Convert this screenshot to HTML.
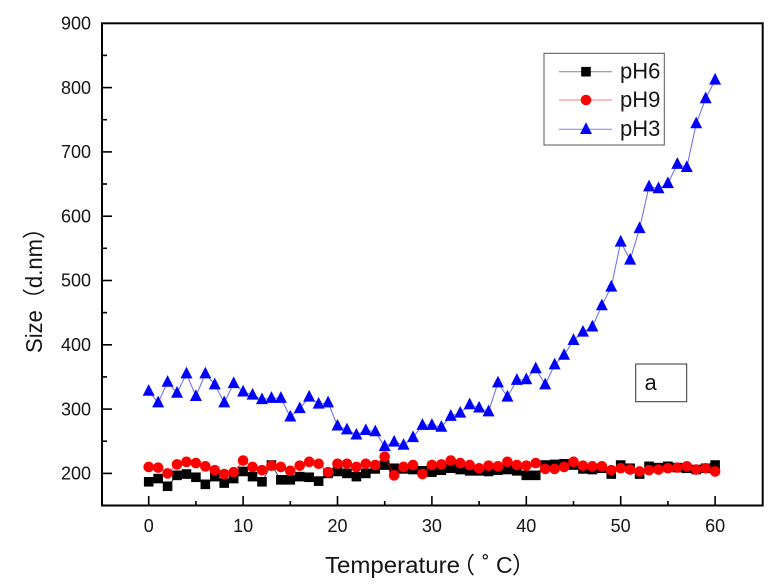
<!DOCTYPE html>
<html><head><meta charset="utf-8"><style>
html,body{margin:0;padding:0;background:#fff;}
svg{display:block;}
text{font-family:"Liberation Sans","Noto Sans CJK SC",sans-serif;fill:#151515;}
</style></head><body>
<svg width="780" height="588" viewBox="0 0 780 588" xmlns="http://www.w3.org/2000/svg">
<defs>
<marker id="msq" markerUnits="userSpaceOnUse" markerWidth="1" markerHeight="1" refX="0" refY="0" style="overflow:visible" overflow="visible">
<rect transform="scale(0.105932,-1.555210)" x="-4.8" y="-4.8" width="9.6" height="9.6" fill="#000"/>
</marker>
<marker id="mci" markerUnits="userSpaceOnUse" markerWidth="1" markerHeight="1" refX="0" refY="0" style="overflow:visible" overflow="visible">
<circle transform="scale(0.105932,-1.555210)" cx="0" cy="0" r="5.3" fill="#f00"/>
</marker>
<marker id="mtr" markerUnits="userSpaceOnUse" markerWidth="1" markerHeight="1" refX="0" refY="0" style="overflow:visible" overflow="visible">
<path transform="scale(0.105932,-1.555210)" d="M0,-7 L6,4.7 L-6,4.7 Z" fill="#00f"/>
</marker>
</defs>
<rect width="780" height="588" fill="#fff"/>

<g transform="translate(148.7,602) scale(9.44,-0.643)">
<polyline fill="none" stroke="#000" stroke-opacity="0.75" stroke-width="1" vector-effect="non-scaling-stroke" marker-start="url(#msq)" marker-mid="url(#msq)" marker-end="url(#msq)"
points="0,187 1,192 2,180 3,197 4,199 5,194 6,183 7,195 8,185 9,192 10,203 11,195 12,187 13,213 14,190 15,190 16,195 17,194 18,188 19,200 20,203 21,200 22,195 23,200 24,207 25,213 26,208 27,207 28,206 29,204 30,202 31,205 32,208 33,206 34,204 35,204 36,203 37,205 38,206 39,204 40,197 41,197 42,213 43,214 44,215 45,213 46,207 47,206 48,208 49,199 50,213 51,208 52,199 53,211 54,209 55,211 56,209 57,208 58,206 59,208 60,213"/>
<polyline fill="none" stroke="#f00" stroke-opacity="0.75" stroke-width="1" vector-effect="non-scaling-stroke" marker-start="url(#mci)" marker-mid="url(#mci)" marker-end="url(#mci)"
points="0,210 1,209 2,200 3,214 4,218 5,216 6,211 7,205 8,199 9,202 10,220 11,210 12,205 13,212 14,210 15,204 16,212 17,218 18,215 19,202 20,215 21,215 22,210 23,215 24,213 25,226 26,197 27,210 28,213 29,199 30,213 31,214 32,220 33,216 34,213 35,208 36,212 37,211 38,218 39,213 40,212 41,216 42,207 43,207 44,210 45,218 46,212 47,211 48,211 49,205 50,208 51,206 52,203 53,205 54,206 55,208 56,209 57,211 58,206 59,208 60,203"/>
<polyline fill="none" stroke="#00f" stroke-opacity="0.6" stroke-width="1" vector-effect="non-scaling-stroke" marker-start="url(#mtr)" marker-mid="url(#mtr)" marker-end="url(#mtr)"
points="0,328 1,310 2,342 3,325 4,355 5,320 6,355 7,338 8,310 9,340 10,327 11,322 12,315 13,317 14,317 15,288 16,301 17,319 18,308 19,310 20,274 21,268 22,260 23,267 24,265 25,242 26,249 27,244 28,256 29,275 30,275 31,272 32,289 33,294 34,307 35,302 36,296 37,341 38,319 39,345 40,346 41,363 42,338 43,369 44,384 45,407 46,420 47,428 48,461 49,490 50,560 51,532 52,581 53,646 54,643 55,651 56,681 57,676 58,744 59,783 60,812"/>
</g>

<!-- frame -->
<rect x="102" y="23.3" width="660.7" height="482.2" fill="none" stroke="#000" stroke-width="2"/>

<!-- y ticks -->
<g stroke="#000" stroke-width="1.6">
<line x1="102" y1="473.4" x2="112" y2="473.4"/>
<line x1="102" y1="409.1" x2="112" y2="409.1"/>
<line x1="102" y1="344.8" x2="112" y2="344.8"/>
<line x1="102" y1="280.5" x2="112" y2="280.5"/>
<line x1="102" y1="216.2" x2="112" y2="216.2"/>
<line x1="102" y1="151.9" x2="112" y2="151.9"/>
<line x1="102" y1="87.6" x2="112" y2="87.6"/>
<line x1="102" y1="441.2" x2="107" y2="441.2"/>
<line x1="102" y1="376.9" x2="107" y2="376.9"/>
<line x1="102" y1="312.6" x2="107" y2="312.6"/>
<line x1="102" y1="248.3" x2="107" y2="248.3"/>
<line x1="102" y1="184.0" x2="107" y2="184.0"/>
<line x1="102" y1="119.7" x2="107" y2="119.7"/>
<line x1="102" y1="55.4" x2="107" y2="55.4"/>
</g>
<!-- x ticks -->
<g stroke="#000" stroke-width="1.6">
<line x1="148.7" y1="505.5" x2="148.7" y2="496"/>
<line x1="243.1" y1="505.5" x2="243.1" y2="496"/>
<line x1="337.5" y1="505.5" x2="337.5" y2="496"/>
<line x1="431.9" y1="505.5" x2="431.9" y2="496"/>
<line x1="526.3" y1="505.5" x2="526.3" y2="496"/>
<line x1="620.7" y1="505.5" x2="620.7" y2="496"/>
<line x1="715.1" y1="505.5" x2="715.1" y2="496"/>
<line x1="195.9" y1="505.5" x2="195.9" y2="501"/>
<line x1="290.3" y1="505.5" x2="290.3" y2="501"/>
<line x1="384.7" y1="505.5" x2="384.7" y2="501"/>
<line x1="479.1" y1="505.5" x2="479.1" y2="501"/>
<line x1="573.5" y1="505.5" x2="573.5" y2="501"/>
<line x1="667.9" y1="505.5" x2="667.9" y2="501"/>
</g>

<!-- y tick labels -->
<g font-size="18" text-anchor="end">
<text x="91" y="29.5">900</text>
<text x="91" y="93.8">800</text>
<text x="91" y="158.1">700</text>
<text x="91" y="222.4">600</text>
<text x="91" y="286.7">500</text>
<text x="91" y="351.0">400</text>
<text x="91" y="415.3">300</text>
<text x="91" y="479.6">200</text>
</g>
<!-- x tick labels -->
<g font-size="18" text-anchor="middle">
<text x="148.7" y="532">0</text>
<text x="243.1" y="532">10</text>
<text x="337.5" y="532">20</text>
<text x="431.9" y="532">30</text>
<text x="526.3" y="532">40</text>
<text x="620.7" y="532">50</text>
<text x="715.1" y="532">60</text>
</g>

<!-- axis titles -->
<g font-size="23">
<text x="325" y="573" textLength="135" lengthAdjust="spacingAndGlyphs">Temperature</text>
<text x="452" y="573" font-family="Noto Sans CJK SC, sans-serif">（</text>
<text x="482" y="573">˚</text>
<text x="496" y="573">C</text>
<text x="512" y="573" font-family="Noto Sans CJK SC, sans-serif">）</text>
</g>
<text font-size="23" transform="translate(42,353) rotate(-90)" x="0" y="0" textLength="136" lengthAdjust="spacingAndGlyphs">Size（d.nm）</text>

<!-- legend -->
<rect x="544" y="53.3" width="120.3" height="91.7" fill="#fff" stroke="#555" stroke-width="1"/>
<line x1="559" y1="71.7" x2="612" y2="71.7" stroke="#000" stroke-opacity="0.5" stroke-width="1"/>
<rect x="581.2" y="66.9" width="9.6" height="9.6" fill="#000"/>
<line x1="559" y1="100" x2="612" y2="100" stroke="#f00" stroke-opacity="0.5" stroke-width="1"/>
<circle cx="586" cy="100" r="5.3" fill="#f00"/>
<line x1="559" y1="129.3" x2="612" y2="129.3" stroke="#00f" stroke-opacity="0.5" stroke-width="1"/>
<path d="M586,122.3 L592,134 L580,134 Z" fill="#00f"/>
<g font-size="22">
<text x="620" y="78.5">pH6</text>
<text x="620" y="107">pH9</text>
<text x="620" y="136">pH3</text>
</g>

<!-- label a -->
<rect x="635.7" y="364" width="51" height="37.7" fill="#fff" stroke="#333" stroke-width="1"/>
<text x="644.5" y="390" font-size="22">a</text>
</svg>
</body></html>
